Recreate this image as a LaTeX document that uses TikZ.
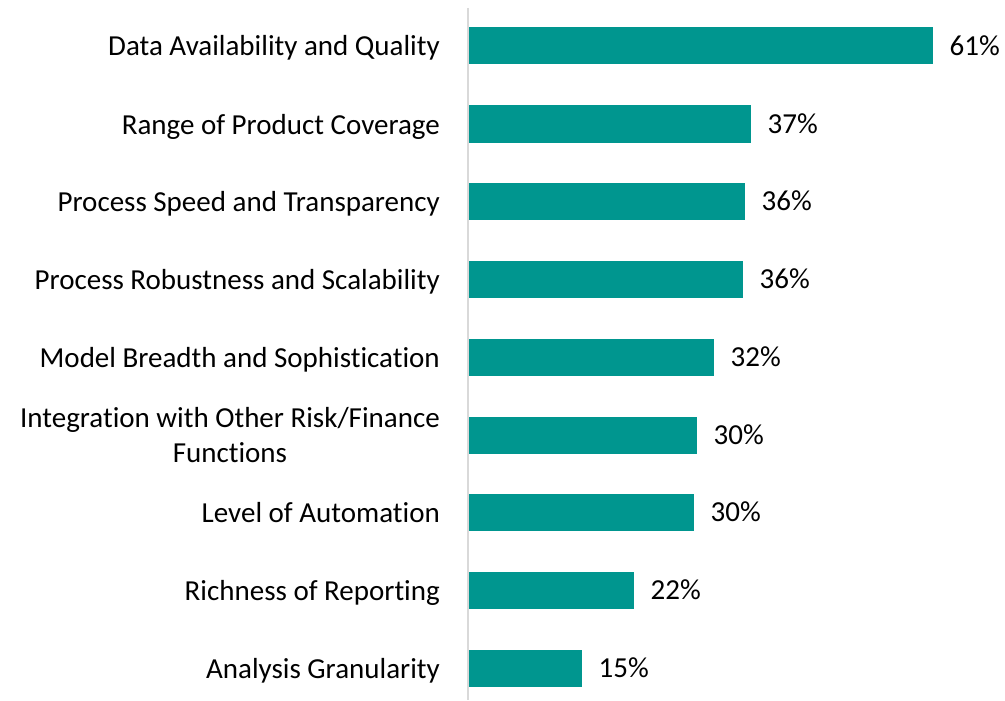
\documentclass[tikz,border=0pt]{standalone}
\usepackage{fontspec}
\setmainfont{Carlito}[Ligatures=NoCommon]
\usetikzlibrary{positioning}
\definecolor{barteal}{HTML}{00968F}
\definecolor{axisgrey}{HTML}{D9D9D9}
\tikzset{
    %Define style for category labels
    catlabel/.style={
           anchor=base east, align=center, inner sep=0pt,
           font=\fontsize{29}{35}\selectfont},
    %Define style for bars
    bar/.style={
           rectangle, fill=barteal, anchor=west,
           minimum height=37pt, inner sep=0pt},
    % Define style for value labels
    pct/.style={
           inner sep=0pt,
           font=\fontsize{29}{35}\selectfont}
}

\begin{document}
\begin{tikzpicture}[x=1pt,y=-1pt]
	\useasboundingbox (0,0) rectangle (1005,701);

	% axis
	\coordinate (axtop) at (468,8);
	\coordinate (axbot) at (468,700);
	\draw[axisgrey, line width=1.5pt] (axtop) -- (axbot);

	% bars
	\foreach \i/\y/\d/\w/\v/\t in {
		1/46/10/464/61/{Data Availability and Quality},
		2/124/10/282/37/{Range of Product Coverage},
		3/201/10/276/36/{Process Speed and Transparency},
		4/279/10/274/36/{Process Robustness and Scalability},
		5/357/10/245/32/{Model Breadth and Sophistication},
		6/435/27/228/30/{Integration with Other Risk/Finance\\Functions},
		7/512/10/225/30/{Level of Automation},
		8/590/10/165/22/{Richness of Reporting},
		9/668/10/113/15/{Analysis Granularity}} {
		\node[catlabel](lab\i) at (440,\y+\d) {\t};
		\node[bar, minimum width=\w pt](bar\i) at (469,\y) {};
		\node[pct, right=16pt of bar\i.east, anchor=west](val\i) {\v\%};
	}

\end{tikzpicture}
\end{document}
